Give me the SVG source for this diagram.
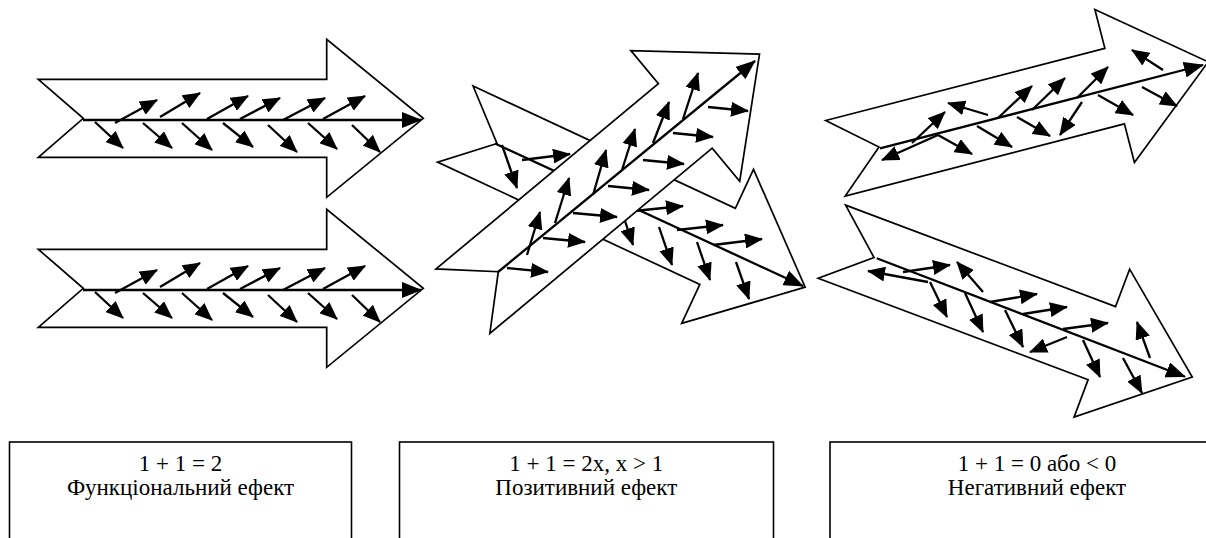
<svg xmlns="http://www.w3.org/2000/svg" xmlns:xlink="http://www.w3.org/1999/xlink" width="1206" height="538" viewBox="0 0 1206 538">
<style>
.shape{fill:#fff;stroke:#000;stroke-width:1.7;stroke-linejoin:miter}
.ar{stroke:#000;stroke-width:2.3;fill:none;marker-end:url(#ah)}
.ax{stroke:#000;stroke-width:2.3;fill:none;marker-end:url(#ahb)}
.box{fill:#fff;stroke:#000;stroke-width:1.6}
.t{font-family:"Liberation Serif","Times New Roman",serif;font-size:23px;fill:#000;text-anchor:middle}
</style>
<defs>
<marker id="ah" viewBox="0 0 18 15" refX="17" refY="7.5" markerWidth="18" markerHeight="15" markerUnits="userSpaceOnUse" orient="auto"><path d="M0,0 L18,7.5 L0,15 Z" fill="#000"/></marker>
<marker id="ahb" viewBox="0 0 20 16" refX="19" refY="8" markerWidth="20" markerHeight="16" markerUnits="userSpaceOnUse" orient="auto"><path d="M0,0 L20,8 L0,16 Z" fill="#000"/></marker>
<path id="arrowA" d="M-45,-39 L243.4,-39 L243.4,-79 L340,0 L243.4,79 L243.4,39 L-45,39 L0,0 Z"/>
<path id="arrowB" d="M-46,-42 L243.4,-42 L243.4,-85 L340,0 L243.4,85 L243.4,42 L-46,42 L0,0 Z"/>
</defs>
<rect width="1206" height="538" fill="#fff"/>

<g id="arrow-top-left">
<use xlink:href="#arrowA" class="shape" transform="translate(83.3,118.3)"/>
<path class="ax" d="M83,120 L421,120"/>
<path class="ar" d="M115,123 L157,100"/>
<path class="ar" d="M160,117 L200,93"/>
<path class="ar" d="M207,119 L248,96"/>
<path class="ar" d="M240,119 L280,98"/>
<path class="ar" d="M283,120 L325,98"/>
<path class="ar" d="M323,119 L365,96"/>
<path class="ar" d="M95,122 L123,148"/>
<path class="ar" d="M143,123 L172,148"/>
<path class="ar" d="M182,123 L212,150"/>
<path class="ar" d="M223,123 L253,147"/>
<path class="ar" d="M268,125 L297,152"/>
<path class="ar" d="M308,123 L337,149"/>
<path class="ar" d="M352,125 L380,152"/>
</g>

<g id="arrow-bottom-left">
<use xlink:href="#arrowA" class="shape" transform="translate(83.3,288.3)"/>
<path class="ax" d="M83,290 L421,290"/>
<path class="ar" d="M115,293 L157,270"/>
<path class="ar" d="M160,287 L200,263"/>
<path class="ar" d="M207,289 L248,266"/>
<path class="ar" d="M240,289 L280,268"/>
<path class="ar" d="M283,290 L325,268"/>
<path class="ar" d="M323,289 L365,266"/>
<path class="ar" d="M95,292 L123,318"/>
<path class="ar" d="M143,293 L172,318"/>
<path class="ar" d="M182,293 L212,320"/>
<path class="ar" d="M223,293 L253,317"/>
<path class="ar" d="M268,295 L297,322"/>
<path class="ar" d="M308,293 L337,319"/>
<path class="ar" d="M352,295 L380,322"/>
</g>

<g id="arrow-middle-back">
<use xlink:href="#arrowB" class="shape" transform="translate(497,143.5) rotate(25)"/>
<path class="ax" d="M495,143.5 L803,286"/>
<path class="ar" d="M502,145 L517,188"/>
<path class="ar" d="M522,160 L570,154"/>
<path class="ar" d="M634,211 L683,206"/>
<path class="ar" d="M620,206 L633,245"/>
<path class="ar" d="M659,227 L672,265"/>
<path class="ar" d="M677,230 L723,225"/>
<path class="ar" d="M697,242 L710,280"/>
<path class="ar" d="M713,245 L762,239"/>
<path class="ar" d="M736,262 L749,299"/>
</g>

<g id="arrow-middle-front">
<use xlink:href="#arrowB" class="shape" transform="translate(498.3,271.7) rotate(-39.8)"/>
<path class="ax" d="M498,272 L755,61"/>
<path class="ar" d="M527,255 L540,212"/>
<path class="ar" d="M555,223 L569,178"/>
<path class="ar" d="M593,195 L606,150"/>
<path class="ar" d="M622,170 L635,129"/>
<path class="ar" d="M653,143 L669,102"/>
<path class="ar" d="M683,119 L698,73"/>
<path class="ar" d="M507,268 L548,272"/>
<path class="ar" d="M543,238 L585,242"/>
<path class="ar" d="M573,213 L617,217"/>
<path class="ar" d="M608,186 L649,190"/>
<path class="ar" d="M643,160 L684,164"/>
<path class="ar" d="M673,133 L713,137"/>
<path class="ar" d="M708,107 L748,111"/>
</g>

<g id="arrow-right-top">
<use xlink:href="#arrowA" class="shape" transform="translate(879,147) rotate(-14.5)"/>
<path class="ax" d="M880,148.3 L1203,65"/>
<path class="ar" d="M912,143 L945,112"/>
<path class="ar" d="M938,135 L882,160"/>
<path class="ar" d="M938,135 L972,154"/>
<path class="ar" d="M988,115 L948,103"/>
<path class="ar" d="M977,126 L1012,147"/>
<path class="ar" d="M998,118 L1032,86"/>
<path class="ar" d="M1017,117 L1050,136"/>
<path class="ar" d="M1032,110 L1065,78"/>
<path class="ar" d="M1082,102 L1060,135"/>
<path class="ar" d="M1077,98 L1108,67"/>
<path class="ar" d="M1098,95 L1133,115"/>
<path class="ar" d="M1163,70 L1132,50"/>
<path class="ar" d="M1142,87 L1177,106"/>
</g>

<g id="arrow-right-bottom">
<use xlink:href="#arrowA" class="shape" transform="translate(874,257.5) rotate(20.6)"/>
<path class="ax" d="M876.7,258.3 L1185,376.7"/>
<path class="ar" d="M928,282 L868,271"/>
<path class="ar" d="M903,272 L950,265"/>
<path class="ar" d="M983,292 L957,262"/>
<path class="ar" d="M930,282 L947,317"/>
<path class="ar" d="M965,293 L983,332"/>
<path class="ar" d="M990,302 L1037,294"/>
<path class="ar" d="M1005,310 L1023,347"/>
<path class="ar" d="M1023,314 L1067,307"/>
<path class="ar" d="M1063,329 L1108,323"/>
<path class="ar" d="M1067,337 L1030,352"/>
<path class="ar" d="M1083,340 L1100,377"/>
<path class="ar" d="M1150,358 L1137,322"/>
<path class="ar" d="M1123,358 L1142,393"/>
</g>

<g id="box-functional">
<rect class="box" x="9.5" y="442" width="342" height="120"/>
<text class="t" x="180.5" y="471" font-family="Liberation Serif, serif">1 + 1 = 2</text>
<text class="t" x="180.5" y="495" font-family="Liberation Serif, serif">Функціональний ефект</text>
</g>

<g id="box-positive">
<rect class="box" x="399.5" y="442" width="374" height="120"/>
<text class="t" x="586.3" y="471" font-family="Liberation Serif, serif">1 + 1 = 2x, x &gt; 1</text>
<text class="t" x="586.3" y="495" font-family="Liberation Serif, serif">Позитивний ефект</text>
</g>

<g id="box-negative">
<rect class="box" x="830" y="442" width="420" height="120"/>
<text class="t" x="1037" y="471" font-family="Liberation Serif, serif">1 + 1 = 0 або &lt; 0</text>
<text class="t" x="1037" y="495" font-family="Liberation Serif, serif">Негативний ефект</text>
</g>

<g id="connectors"></g>
</svg>
